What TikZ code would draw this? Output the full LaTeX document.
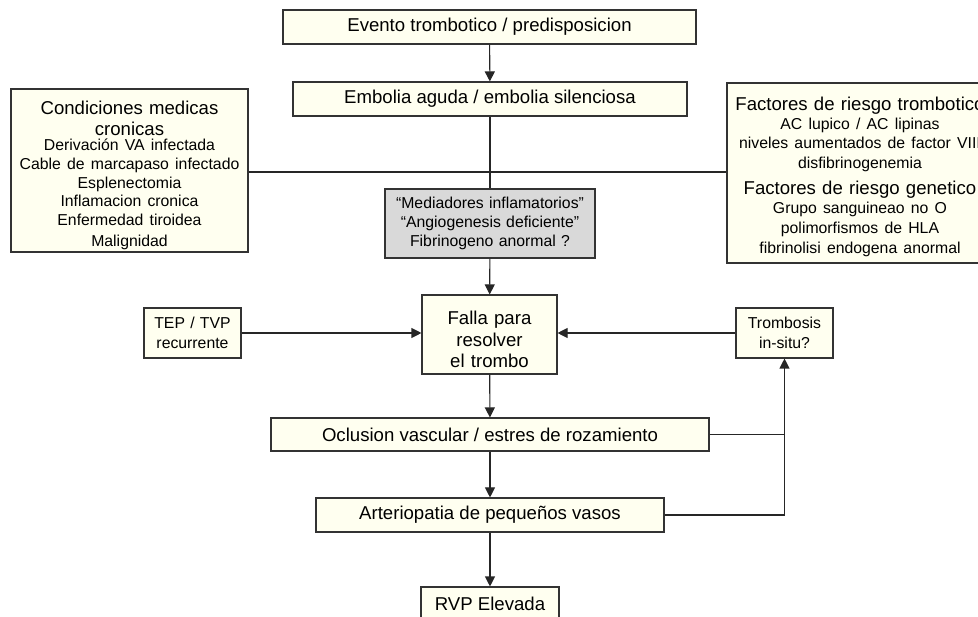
\documentclass[tikz,border=0pt]{standalone}
\usepackage{fontspec}
\setmainfont{Liberation Sans}
\usetikzlibrary{arrows.meta}

\definecolor{cream}{RGB}{255,255,240}
\definecolor{shade}{RGB}{217,217,217}
\newcommand\largetxt{\fontsize{18.6}{20.5}\selectfont}
\newcommand\smalltxt{\fontsize{15.8}{19.3}\selectfont}

\begin{document}
\begin{tikzpicture}[
    x = 1pt, y = -1pt,
    box/.style = {
      draw = black!80, line width = 1.1pt, fill = cream,
      inner sep = 0pt, align = center, font = \largetxt
    },
    greybox/.style = { box, fill = shade, font = \smalltxt },
    link/.style = { draw = black!85, line width = 1.1pt },
    flow/.style = { link, -{Triangle[length=10pt, width=10pt]} }
  ]
  \useasboundingbox (0, 0) rectangle (978, 617);

  % main column
  \node[box, minimum width = 413, minimum height = 34] (evento) at (489.5, 27)
    {Evento trombotico / predisposicion};
  \node[box, minimum width = 394, minimum height = 34] (embolia) at (490, 99)
    {Embolia aguda / embolia silenciosa};
  \node[greybox, text width = 210, minimum height = 69] (mediadores)
    at (490, 223.5)
    {“Mediadores inflamatorios”\\“Angiogenesis deficiente”\\Fibrinogeno anormal ?};
  \node[box, text width = 135, minimum height = 79] (falla) at (489.5, 334.5)
    {\fontsize{18.6}{22}\selectfont\rule{0pt}{23pt}Falla para\\resolver\\el trombo};
  \node[box, minimum width = 438, minimum height = 33] (oclusion)
    at (490, 434.5) {Oclusion vascular / estres de rozamiento};
  \node[box, minimum width = 348, minimum height = 34] (arterio) at (490, 515)
    {Arteriopatia de peque\~nos vasos};
  \node[box, minimum width = 138, minimum height = 34] (rvp) at (490, 604)
    {RVP Elevada};

  % side boxes
  \node[box, text width = 237, minimum height = 163] (cronicas)
    at (129.5, 170.5)
    {{\largetxt\rule{0pt}{23pt}Condiciones medicas\\cronicas\par}
     \vspace{-3.5pt}\fontsize{15.8}{18.8}\selectfont
     Derivación VA infectada\\Cable de marcapaso infectado\\
     Esplenectomia\\Inflamacion cronica\\Enfermedad tiroidea\\Malignidad};
  \node[box, text width = 266, minimum height = 180] (riesgo) at (860, 173)
    {{\largetxt\rule{0pt}{21pt}Factores de riesgo trombotico\par}
     \smalltxt AC lupico / AC lipinas\\niveles aumentados de factor VIII\\
     disfibrinogenemia\par
     \vspace{6pt}{\largetxt Factores de riesgo genetico\par}
     \smalltxt Grupo sanguineao no O\\polimorfismos de HLA\\
     fibrinolisi endogena anormal};
  \node[box, font = \smalltxt, text width = 97, minimum height = 50] (tep)
    at (192.5, 333) {TEP / TVP\\recurrente};
  \node[box, font = \smalltxt, text width = 97, minimum height = 50] (insitu)
    at (784.5, 333) {Trombosis\\in-situ?};

  \coordinate (cruce) at (490, 172);

  \draw[flow] (evento) -- (embolia);
  \draw[link] (embolia) -- (mediadores);
  \draw[link] (cronicas.east |- cruce) -- (riesgo.west |- cruce);
  \draw[flow] (mediadores) -- (falla);
  \draw[flow] (tep.east) -- (tep.east -| falla.west);
  \draw[flow] (insitu.west) -- (insitu.west -| falla.east);
  \draw[flow] (falla) -- (oclusion);
  \draw[flow] (oclusion) -- (arterio);
  \draw[flow] (arterio) -- (rvp);
  \draw[link] (oclusion.east) -- (oclusion.east -| insitu.south);
  \draw[flow] (arterio.east) -| (insitu.south);
\end{tikzpicture}
\end{document}
